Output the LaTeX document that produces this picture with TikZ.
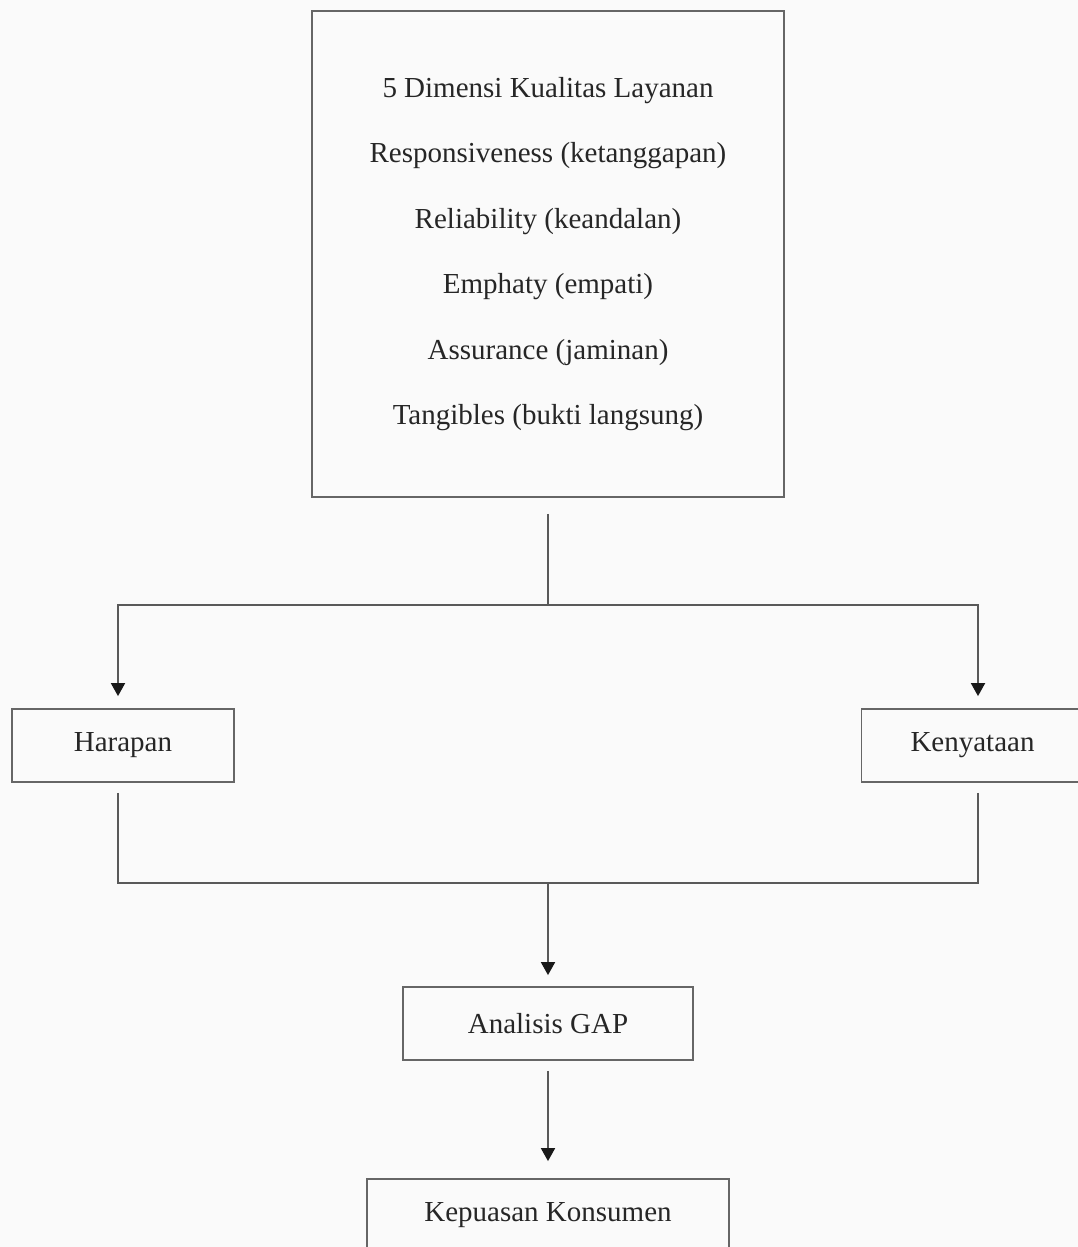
\documentclass[tikz,border=0pt]{standalone}
\usepackage{fontspec}
\setmainfont{Liberation Serif}
\usepackage{tikz}
\usetikzlibrary{arrows.meta, positioning}

\begin{document}
\begin{tikzpicture}[
  x=1pt, y=-1pt,
  font=\fontsize{29}{65.4}\selectfont,
  text=black!85,
  box/.style={draw=black!60, line width=1.8pt, align=center,
              inner sep=0pt, minimum height=73pt},
  line/.style={draw=black!65, line width=1.8pt},
  arr/.style={line, -{Triangle[length=13pt, width=14pt, color=black!90]}}
]

% page
\fill[black!2] (0,0) rectangle (1078,1247);
\useasboundingbox (0,0) rectangle (1078,1247);

\node[box, minimum width=472pt, minimum height=486pt] (dim) at (548,254) {
  5 Dimensi Kualitas Layanan\\
  Responsiveness (ketanggapan)\\
  Reliability (keandalan)\\
  Emphaty (empati)\\
  Assurance (jaminan)\\
  Tangibles (bukti langsung)
};

\node[box, minimum width=222pt] (har) at (123,745.5) {Harapan};
\node[box, minimum width=222pt] (ken) at (972.5,745.5) {Kenyataan};
\node[box, minimum width=290pt] (gap) at (548,1023.5) {Analisis GAP};
\node[box, minimum width=362pt] (kep) at (548,1215.5) {Kepuasan Konsumen};

\coordinate (split) at (548,605);
\coordinate (merge) at (548,883);

\draw[line] ([yshift=-16pt]dim.south) -- (split);
\draw[arr] (split) -| ([xshift=-5pt, yshift=12pt]har.north);
\draw[arr] (split) -| ([xshift=5.5pt, yshift=12pt]ken.north);

\draw[line] ([xshift=-5pt, yshift=-10pt]har.south) |- (merge);
\draw[line] ([xshift=5.5pt, yshift=-10pt]ken.south) |- (merge);

\draw[arr] (merge) -- ([yshift=11pt]gap.north);
\draw[arr] ([yshift=-10pt]gap.south) -- ([yshift=17pt]kep.north);

\end{tikzpicture}
\end{document}
